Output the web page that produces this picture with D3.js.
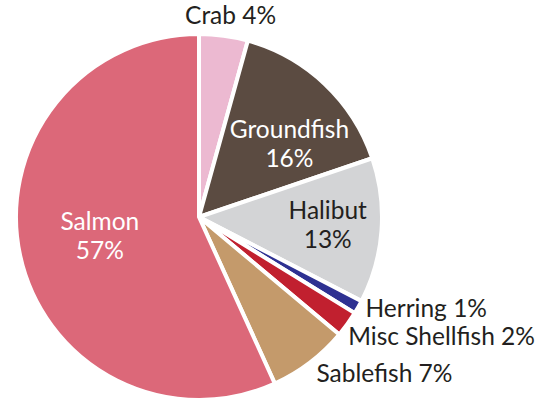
<!DOCTYPE html>
<html>
<head>
<meta charset="utf-8">
<script src="https://cdn.jsdelivr.net/npm/d3@7"></script>
<style>
  body { margin: 0; background: #fff; }
  text { font-family: "Lato", "Open Sans", sans-serif; }
</style>
</head>
<body>
<div id="chart"></div>
<script>
// slices, clockwise from 12 o'clock
const categories = ["Crab", "Groundfish", "Halibut", "Herring", "Misc Shellfish", "Sablefish", "Salmon"];
const shares = [4.3, 15.5, 12.8, 1.2, 2.3, 7.1, 56.8];
const percentLabels = ["4%", "16%", "13%", "1%", "2%", "7%", "57%"];
const colors = ["#ecb9d1", "#5b4b41", "#d3d4d6", "#2e3192", "#c1202f", "#c49a6b", "#dc6879"];

const width = 551, height = 402;
const cx = 199, cy = 217, radius = 183;
const fontSize = 24.5;

// label placement: inside labels sit on a radius, outside ones just past the rim
const labelLayout = {
    "Crab": {type: "out", r: radius + 22, anchor: "middle", dx: 4, dy: 2},
    "Groundfish": {type: "in", r: radius * 0.6, dx: 15, dy: 6},
    "Halibut": {type: "in", r: radius * 0.7, dx: 1, dy: -3},
    "Herring": {type: "out", r: radius + 6, anchor: "start", dx: 2, dy: -2},
    "Misc Shellfish": {type: "out", r: radius + 6, anchor: "start", dx: -4, dy: 9},
    "Sablefish": {type: "out", r: radius + 6, anchor: "start", dx: 3, dy: 6},
    "Salmon": {type: "in", r: radius * 0.56, dx: 1, dy: -4}
};
const whiteText = ["Groundfish", "Salmon"];

const svg = d3.select("#chart").append("svg")
    .attr("width", width)
    .attr("height", height);

const g = svg.append("g")
    .attr("transform", "translate(" + cx + "," + cy + ")");

const data = categories.map((c, i) => ({name: c, value: shares[i], pct: percentLabels[i], color: colors[i]}));

const pie = d3.pie().value(d => d.value).sort(null);
const arc = d3.arc().innerRadius(0).outerRadius(radius);
const arcs = pie(data);

g.selectAll(".slice")
    .data(arcs)
    .enter().append("path")
    .attr("class", "slice")
    .attr("d", arc)
    .attr("fill", d => d.data.color)
    .attr("stroke", "#fff")
    .attr("stroke-width", 4)
    .attr("stroke-linejoin", "round");

function labelPoint(d) {
    const lay = labelLayout[d.data.name];
    const a = (d.startAngle + d.endAngle) / 2;
    return [Math.sin(a) * lay.r + lay.dx, -Math.cos(a) * lay.r + lay.dy];
}

const labels = g.selectAll(".label")
    .data(arcs)
    .enter().append("text")
    .attr("class", "label")
    .attr("font-size", fontSize)
    .attr("fill", d => whiteText.includes(d.data.name) ? "#fff" : "#231f20")
    .attr("transform", d => "translate(" + labelPoint(d) + ")");

labels.each(function (d) {
    const lay = labelLayout[d.data.name];
    const t = d3.select(this);
    if (lay.type === "in") {
        t.attr("text-anchor", "middle");
        t.append("tspan").attr("x", 0).attr("dy", "-0.2em").text(d.data.name);
        t.append("tspan").attr("x", 0).attr("dy", "1.18em").text(d.data.pct);
    } else {
        t.attr("text-anchor", lay.anchor)
            .attr("dy", "0.35em")
            .text(d.data.name + " " + d.data.pct);
    }
});
</script>
</body>
</html>
